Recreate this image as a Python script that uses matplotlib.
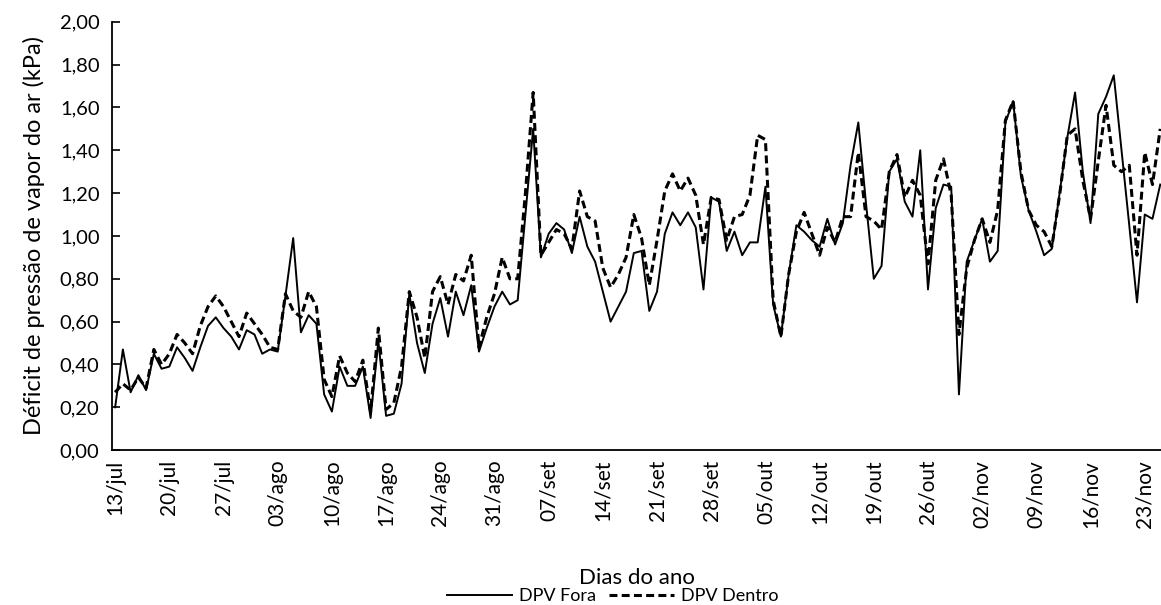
import numpy as np
import matplotlib
matplotlib.use("Agg")
import matplotlib.pyplot as plt

plt.rcParams['font.family'] = ['Lato', 'DejaVu Sans']

# DPV diário, 13/jul a 25/nov (kPa)
dpv_fora = [
    0.20, 0.47, 0.27, 0.35, 0.28, 0.45, 0.38, 0.39, 0.48, 0.43,
    0.37, 0.48, 0.58, 0.62, 0.57, 0.53, 0.47, 0.56, 0.54, 0.45,
    0.47, 0.46, 0.72, 0.99, 0.55, 0.63, 0.59, 0.26, 0.18, 0.39,
    0.30, 0.30, 0.39, 0.15, 0.51, 0.16, 0.17, 0.31, 0.73, 0.50,
    0.36, 0.59, 0.71, 0.53, 0.74, 0.63, 0.77, 0.46, 0.57, 0.67,
    0.74, 0.68, 0.70, 1.10, 1.50, 0.90, 1.01, 1.06, 1.03, 0.92,
    1.09, 0.95, 0.88, 0.74, 0.60, 0.67, 0.74, 0.92, 0.93, 0.65,
    0.74, 1.01, 1.11, 1.05, 1.11, 1.04, 0.75, 1.18, 1.16, 0.93,
    1.02, 0.91, 0.97, 0.97, 1.23, 0.68, 0.53, 0.82, 1.05, 1.02,
    0.98, 0.95, 1.08, 0.96, 1.06, 1.33, 1.53, 1.15, 0.80, 0.86,
    1.30, 1.36, 1.16, 1.09, 1.40, 0.75, 1.13, 1.24, 1.23, 0.26,
    0.88, 0.98, 1.08, 0.88, 0.93, 1.53, 1.63, 1.28, 1.12, 1.02,
    0.91, 0.94, 1.20, 1.46, 1.67, 1.30, 1.06, 1.57, 1.65, 1.75,
    1.40, 1.05, 0.69, 1.10, 1.08, 1.24,
]
dpv_dentro = [
    0.27, 0.31, 0.28, 0.34, 0.29, 0.47, 0.40, 0.45, 0.54, 0.50,
    0.45, 0.58, 0.67, 0.72, 0.67, 0.60, 0.53, 0.64, 0.59, 0.54,
    0.48, 0.47, 0.73, 0.65, 0.62, 0.74, 0.67, 0.33, 0.25, 0.44,
    0.36, 0.32, 0.42, 0.18, 0.57, 0.19, 0.22, 0.39, 0.74, 0.62,
    0.43, 0.74, 0.81, 0.68, 0.82, 0.79, 0.91, 0.48, 0.62, 0.73,
    0.90, 0.80, 0.80, 1.20, 1.67, 0.91, 0.97, 1.03, 1.01, 0.94,
    1.21, 1.09, 1.07, 0.85, 0.76, 0.82, 0.90, 1.10, 0.99, 0.77,
    0.98, 1.21, 1.29, 1.21, 1.27, 1.19, 0.96, 1.18, 1.17, 0.98,
    1.09, 1.10, 1.19, 1.47, 1.45, 0.70, 0.53, 0.82, 1.02, 1.11,
    1.01, 0.91, 1.04, 0.97, 1.09, 1.09, 1.39, 1.09, 1.07, 1.03,
    1.30, 1.38, 1.18, 1.26, 1.19, 0.87, 1.26, 1.36, 1.19, 0.54,
    0.85, 0.98, 1.08, 0.97, 1.12, 1.54, 1.63, 1.30, 1.12, 1.05,
    1.02, 0.95, 1.19, 1.47, 1.50, 1.26, 1.08, 1.35, 1.61, 1.33,
    1.30, 1.33, 0.91, 1.39, 1.24, 1.50,
]
datas = ['13/jul', '20/jul', '27/jul', '03/ago', '10/ago', '17/ago', '24/ago',
         '31/ago', '07/set', '14/set', '21/set', '28/set', '05/out', '12/out',
         '19/out', '26/out', '02/nov', '09/nov', '16/nov', '23/nov']

dias = np.arange(len(dpv_fora))

fig = plt.figure(figsize=(11.61, 6.05), dpi=100)
ax = fig.add_axes([0.0965, 0.256, 0.9035, 0.708])

ax.plot(dias, dpv_fora, color='black', lw=1.4, label='DPV Fora')
ax.plot(dias, dpv_dentro, color='black', lw=2.2, linestyle=(0, (2.6, 1.4)),
        label='DPV Dentro')

ax.set_xlim(-0.4, len(dias) - 0.9)
ax.set_ylim(0, 2)
ax.set_yticks(np.arange(0, 2.01, 0.2))
ax.set_yticklabels([f'{v:.2f}'.replace('.', ',') for v in np.arange(0, 2.01, 0.2)])
ax.set_xticks(np.arange(0, len(datas) * 7, 7))
ax.set_xticklabels(datas, rotation=90)

ax.tick_params(axis='y', direction='in', length=6, width=1.2, labelsize=14.5, pad=9)
ax.tick_params(axis='x', length=0, labelsize=15, pad=7)
for s in ['top', 'right']:
    ax.spines[s].set_visible(False)
for s in ['left', 'bottom']:
    ax.spines[s].set_linewidth(1.3)

ax.set_ylabel('Déficit de pressão de vapor do ar (kPa)', fontsize=17, labelpad=11)
ax.set_xlabel('Dias do ano', fontsize=16)
ax.xaxis.set_label_coords(0.5, -0.276)

fig.legend(loc='center', bbox_to_anchor=(0.528, 0.015), ncol=2,
           frameon=False, fontsize=13, handlelength=3.6, columnspacing=0.7,
           handletextpad=0.4, borderaxespad=0, borderpad=0)

fig.savefig('out.png', dpi=100)
